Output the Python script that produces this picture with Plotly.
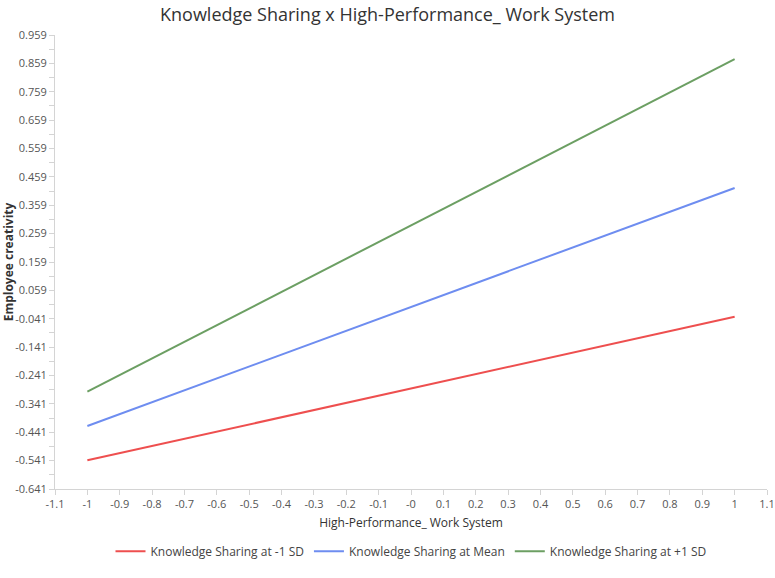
import plotly.graph_objects as go

x_vals = [-1, 1]
low_sd = [-0.540, -0.034]
mean_vals = [-0.419, 0.420]
high_sd = [-0.298, 0.874]
series_names = ["Knowledge Sharing at -1 SD", "Knowledge Sharing at Mean", "Knowledge Sharing at +1 SD"]
colors = ["#ee4f4f", "#6e8df0", "#6c9f63"]
y_ticks = [round(-0.641 + 0.1 * i, 3) for i in range(17)]
x_ticks = [round(-1.1 + 0.1 * i, 1) for i in range(23)]
x_labels = ["-0" if abs(v) < 1e-9 else f"{v:g}" for v in x_ticks]

font = "Open Sans, Noto Sans, sans-serif"
fig = go.Figure()
for name, ys, c in zip(series_names, [low_sd, mean_vals, high_sd], colors):
    fig.add_trace(go.Scatter(x=x_vals, y=ys, mode="lines", name=name,
                             line=dict(color=c, width=2)))

fig.update_layout(
    width=775, height=578,
    margin=dict(l=55, r=8, t=35, b=89, autoexpand=False),
    plot_bgcolor="white", paper_bgcolor="white",
    font=dict(family=font, color="#555"),
    title=dict(text="Knowledge Sharing x High-Performance_ Work System",
               x=0.5, xanchor="center", y=0.985, yanchor="top",
               font=dict(size=18, color="#333", family=font)),
    xaxis=dict(range=[-1.1, 1.1], tickvals=x_ticks, ticktext=x_labels,
               showgrid=False, zeroline=False, showline=True, linecolor="#d4d4d4",
               ticks="outside", ticklen=5, tickcolor="#d4d4d4",
               tickfont=dict(size=11, color="#555"),
               title=dict(text="High-Performance_ Work System", standoff=8,
                          font=dict(size=12, color="#333"))),
    yaxis=dict(range=[-0.641, 0.959], tickvals=y_ticks,
               ticktext=[f"{v:.3f}" for v in y_ticks],
               showgrid=False, zeroline=False, showline=True, linecolor="#d4d4d4",
               ticks="outside", ticklen=5, tickcolor="#d4d4d4",
               tickfont=dict(size=11, color="#555"),
               minor=dict(tickvals=[round(v + 0.05, 3) for v in y_ticks[:-1]],
                          ticks="outside", ticklen=5, tickcolor="#d4d4d4"),
               title=dict(text="<b>Employee creativity</b>", standoff=6,
                          font=dict(size=12, color="#333"))),
    legend=dict(orientation="h", x=0.5, xanchor="center", y=-0.105, yanchor="top",
                font=dict(size=12, color="#444"), itemwidth=30),
)
fig.write_html("out.html")
